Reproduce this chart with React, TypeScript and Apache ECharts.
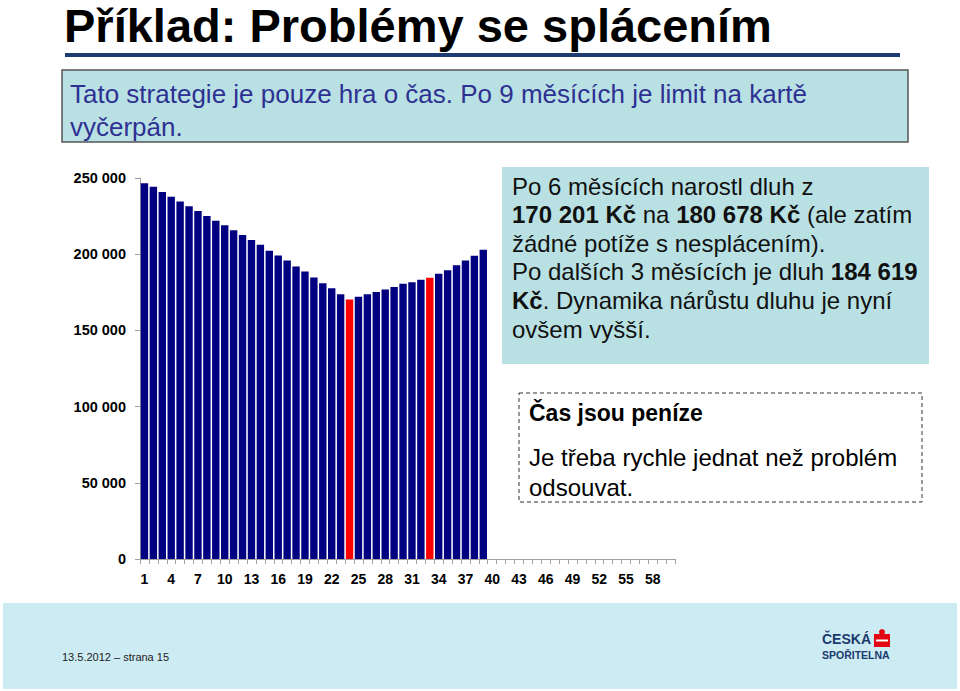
import React, { useEffect, useRef } from "react";
import * as echarts from "echarts";

const months = [
  "1","2","3","4","5","6","7","8","9","10","11","12","13","14","15","16","17","18","19","20",
  "21","22","23","24","25","26","27","28","29","30","31","32","33","34","35","36","37","38","39","40",
  "41","42","43","44","45","46","47","48","49","50","51","52","53","54","55","56","57","58","59","60",
];

const debt = [
  246500, 244300, 240800, 237700, 234500, 231400, 228400, 225100, 222000, 219000,
  215700, 212600, 209300, 206200, 202200, 199200, 195900, 191900, 188700, 184700,
  180900, 177600, 173700, 170201, 172000, 173700, 175200, 176800, 178400, 180678,
  181600, 183200, 184619, 187200, 189500, 192700, 195900, 199000, 203000,
];

const highlightedMonths = ["24", "33"];

const titleText = "Příklad: Problémy se splácením";
const introLines = ["Tato strategie je pouze hra o čas. Po 9 měsících je limit na kartě", "vyčerpán."];
const calloutLines = [
  "Po 6 měsících narostl dluh z",
  "{b|170 201 Kč} na {b|180 678 Kč} (ale zatím",
  "žádné potíže s nesplácením).",
  "Po dalších 3 měsících je dluh {b|184 619}",
  "{b|Kč}. Dynamika nárůstu dluhu je nyní",
  "ovšem vyšší.",
];
const tipTitle = "Čas jsou peníze";
const tipLines = ["Je třeba rychle jednat než problém", "odsouvat."];
const footerText = "13.5.2012 – strana 15";

const FF = '"Liberation Sans", Arial, sans-serif';

export default function App() {
  const ref = useRef<HTMLDivElement>(null);
  useEffect(() => {
    const chart = echarts.init(ref.current!, null, { renderer: "svg" });
    const barData = debt.map((v, i) => ({
      value: v,
      itemStyle: { color: highlightedMonths.includes(months[i]) ? "#ff0000" : "#000080" },
    }));
    const graphic: any[] = [
      { type: "text", x: 64, y: 25, style: { text: titleText, font: `bold 47px ${FF}`, fill: "#000", textVerticalAlign: "middle" } },
      { type: "rect", shape: { x: 65, y: 53, width: 835, height: 4 }, style: { fill: "#1d3c74" } },
      { type: "rect", shape: { x: 62, y: 70, width: 846, height: 72 }, style: { fill: "#b9e1e4", stroke: "#555", lineWidth: 1.5 } },
      ...introLines.map((t, i) => ({
        type: "text", x: 70, y: 94 + i * 33,
        style: { text: t, font: `26px ${FF}`, fill: "#2e3192", textVerticalAlign: "middle" },
      })),
      { type: "rect", shape: { x: 502, y: 167, width: 427, height: 197 }, style: { fill: "#b9e1e4" } },
      ...calloutLines.map((t, i) => ({
        type: "text", x: 512, y: 186 + i * 28.6,
        style: {
          text: t, font: `24px ${FF}`, fill: "#111", textVerticalAlign: "middle",
          rich: { b: { fontWeight: "bold", fontSize: 24, fontFamily: FF, fill: "#111" } },
        },
      })),
      { type: "rect", shape: { x: 519, y: 393, width: 403, height: 109 }, style: { fill: "#fff", stroke: "#333", lineWidth: 1, lineDash: [4, 3] } },
      { type: "text", x: 529, y: 413, style: { text: tipTitle, font: `bold 23px ${FF}`, fill: "#000", textVerticalAlign: "middle" } },
      ...tipLines.map((t, i) => ({
        type: "text", x: 529, y: 457 + i * 30,
        style: { text: t, font: `24px ${FF}`, fill: "#000", textVerticalAlign: "middle" },
      })),
      { type: "rect", shape: { x: 3, y: 603, width: 954, height: 86 }, style: { fill: "#cdebf2" } },
      { type: "text", x: 62, y: 657, style: { text: footerText, font: `11px ${FF}`, fill: "#222", textVerticalAlign: "middle" } },
      { type: "text", x: 822, y: 639, style: { text: "ČESKÁ", font: `bold 14px ${FF}`, fill: "#1a3a6e", textVerticalAlign: "middle" } },
      { type: "text", x: 822, y: 655, style: { text: "SPOŘITELNA", font: `bold 10.5px ${FF}`, fill: "#1a3a6e", textVerticalAlign: "middle" } },
      { type: "circle", shape: { cx: 882, cy: 632, r: 3 }, style: { fill: "#e30613" } },
      { type: "rect", shape: { x: 874, y: 634, width: 16, height: 13 }, style: { fill: "#e30613" } },
      { type: "rect", shape: { x: 876, y: 639.5, width: 12, height: 2 }, style: { fill: "#fff" } },
    ];
    chart.setOption({
      animation: false,
      backgroundColor: "#fff",
      grid: { left: 140, right: 285, top: 178, bottom: 132, containLabel: false },
      xAxis: {
        type: "category",
        data: months,
        boundaryGap: true,
        axisLine: { show: true, lineStyle: { color: "#a0a0a0", width: 1 } },
        axisTick: { show: true, interval: 0, length: 5, alignWithLabel: false, lineStyle: { color: "#a0a0a0" } },
        axisLabel: { interval: 2, fontSize: 14, fontWeight: "bold", color: "#000", margin: 13, fontFamily: FF },
      },
      yAxis: {
        type: "value",
        min: 0,
        max: 250000,
        interval: 50000,
        splitLine: { show: false },
        axisLine: { show: true, lineStyle: { color: "#a0a0a0", width: 1 } },
        axisTick: { show: true, length: 5, lineStyle: { color: "#a0a0a0" } },
        axisLabel: {
          fontSize: 14.5,
          fontWeight: "bold",
          color: "#000",
          margin: 14,
          fontFamily: FF,
          formatter: (v: number) => (v === 0 ? "0" : `${Math.floor(v / 1000)} ${String(v % 1000).padStart(3, "0")}`),
        },
      },
      series: [
        {
          type: "bar",
          data: barData,
          barWidth: "83%",
          itemStyle: { color: "#000080" },
        },
      ],
      graphic,
    });
    return () => chart.dispose();
  }, []);
  return (
    <div
      ref={ref}
      style={{ position: "fixed", left: 0, top: 0, width: 960, height: 691, background: "#fff" }}
    />
  );
}
